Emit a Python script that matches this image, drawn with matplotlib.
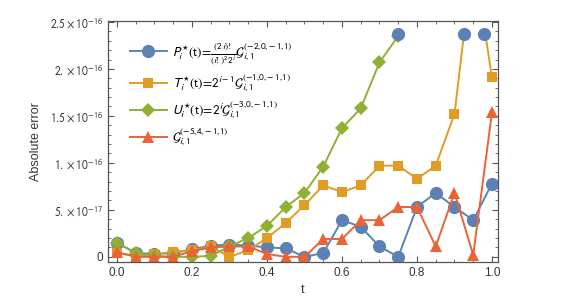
import numpy as np
import matplotlib
matplotlib.use("Agg")
import matplotlib.pyplot as plt
from matplotlib.patches import Rectangle
from matplotlib.ticker import MultipleLocator

plt.rcParams['font.family'] = ['Liberation Sans', 'DejaVu Sans']
plt.rcParams['mathtext.fontset'] = 'stixsans'

t = np.round(np.arange(0, 1.0001, 0.05), 2)
scale = 1e-17
P_err = [1.5, 0.4, 0.3, 0.4, 0.8, 1.2, 1.3, 1.2, 1.0, 0.9, 0.0, 0.4, 3.9, 3.2, 1.1, 0.0, 5.3, 6.8, 5.3, 3.9, 7.8]
T_err = [0.4, 0.1, 0.3, 0.5, 0.7, 1.1, 0.0, 0.7, 2.0, 3.6, 5.5, 7.6, 6.9, 7.6, 9.7, 9.7, 8.3, 9.7, 15.2, 32.0, 19.1]
U_err = [1.5, 0.4, 0.1, 0.0, 0.0, 0.1, 1.1, 2.0, 3.3, 5.3, 6.8, 9.6, 13.7, 15.8, 20.7, 23.5]
G_err = [0.5, 0.0, 0.0, 0.0, 0.6, 1.0, 1.1, 1.1, 0.3, 0.0, 0.0, 1.9, 1.9, 3.9, 3.9, 5.3, 5.3, 1.1, 6.8, 0.2, 15.4]
clip_t = [0.75, 0.925, 0.98]
clip_v = [23.7, 23.7, 23.7]
clip_top = 23.7

labels = [
    r"$P_i^{\star}\mathrm{(t)}\!=\!\frac{(2\,i)!}{(i!)^2\,2^i}\mathcal{G}_{i,1}^{(-2{,}0{,}-1{,}1)}$",
    r"$T_i^{\star}\mathrm{(t)}\!=\!2^{i-1}\mathcal{G}_{i,1}^{(-1{,}0{,}-1{,}1)}$",
    r"$U_i^{\star}\mathrm{(t)}\!=\!2^{i}\mathcal{G}_{i,1}^{(-3{,}0{,}-1{,}1)}$",
    r"$\mathcal{G}_{i,1}^{(-5{,}4{,}-1{,}1)}$",
]
colors = ['#5E81B5', '#E19C24', '#8FB032', '#EB6235']
markers = ['o', 's', 'D', '^']
msizes = [9.5, 6.5, 7.2, 8]
series = [P_err, T_err, U_err, G_err]

fig = plt.figure(figsize=(5.61, 3.0), dpi=100)
ax = fig.add_axes([0.1925, 0.1267, 0.6952, 0.8033])
ax.set_xlim(-0.024, 1.016)
ax.set_ylim(-0.55e-17, 2.51e-16)

clip_rect = Rectangle((-0.024, -0.55e-17), 1.04, clip_top * scale + 0.55e-17,
                      transform=ax.transData, visible=False)
ax.add_patch(clip_rect)

for vals, c, m, ms, lab in zip(series, colors, markers, msizes, labels):
    tt = t[:len(vals)]
    yy = np.array(vals) * scale
    line, = ax.plot(tt, yy, color=c, marker=m, markersize=ms, linewidth=1.4,
                    label=lab, markeredgewidth=0)
    line.set_clip_path(clip_rect)

ax.plot(clip_t, np.array(clip_v) * scale, linestyle='none', marker='o',
        markersize=9.5, color=colors[0], markeredgewidth=0)

ax.xaxis.set_minor_locator(MultipleLocator(0.05))
ax.yaxis.set_minor_locator(MultipleLocator(1e-17))
ylabels = ["0", r"$5.\times10^{-17}$", r"$1.\times10^{-16}$",
           r"$1.5\times10^{-16}$", r"$2.\times10^{-16}$", r"$2.5\times10^{-16}$"]
ax.set_yticks([k * 5e-17 for k in range(6)])
ax.set_yticklabels(ylabels)
ax.set_xticks([0, 0.2, 0.4, 0.6, 0.8, 1.0])
ax.set_xticklabels(["0.0", "0.2", "0.4", "0.6", "0.8", "1.0"])

ax.tick_params(which='both', direction='in', top=True, right=True,
               color='#555555', labelcolor='#333333', labelsize=8.5)
ax.tick_params(which='major', length=4.5, width=0.8)
ax.tick_params(which='minor', length=2.5, width=0.6)
for s in ax.spines.values():
    s.set_color('#555555')
    s.set_linewidth(0.9)

ax.set_xlabel("t", fontsize=9, color='#333333', labelpad=4)
ax.set_ylabel("Absolute error", fontsize=9, color='#333333', labelpad=6)

leg = ax.legend(loc='upper left', bbox_to_anchor=(0.025, 0.965), frameon=False,
                fontsize=9.5, handlelength=2.8, labelspacing=0.42, handletextpad=0.4)

fig.savefig("out.png", dpi=100)
